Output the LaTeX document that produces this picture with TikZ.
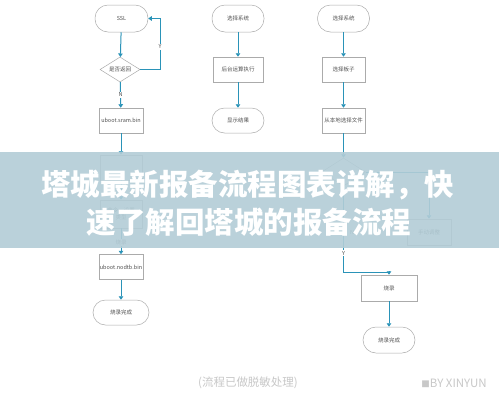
\documentclass[tikz,border=0pt]{standalone}
\usepackage{fontspec}
\newfontfamily\cjk{Noto Sans CJK SC}
\usetikzlibrary{arrows.meta,shapes.geometric,calc}
\definecolor{flow}{HTML}{2A93B8}
\definecolor{edgec}{HTML}{ABABAB}
\definecolor{txt}{HTML}{505050}
\definecolor{band}{HTML}{B3CDD7}
\definecolor{foot}{HTML}{C8C8C8}
\begin{document}
\begin{tikzpicture}[x=1pt,y=-1pt,
  base/.style={draw=edgec,line width=0.5pt,text=txt,font=\cjk\fontsize{5.5}{7}\selectfont,align=center,inner sep=1pt},
  boxn/.style={base,rectangle,minimum width=44pt,minimum height=25pt},
  term/.style={base,rectangle,rounded corners=13pt,minimum width=53pt,minimum height=27pt},
  dec/.style={base,diamond,aspect=2,inner sep=0pt,minimum width=40pt,minimum height=25pt},
  flowline/.style={draw=flow,line width=1pt,-{Triangle[length=3.5pt,width=4.5pt]}},
  lab/.style={fill=white,text=txt,font=\cjk\fontsize{5.5}{7}\selectfont,inner sep=1pt},
  titletext/.style={text=white,font=\cjk\bfseries\fontsize{29.5}{37}\selectfont,inner sep=0pt},
  foottext/.style={text=foot,font=\cjk\fontsize{11.5}{13}\selectfont,inner sep=0pt}]
\useasboundingbox (0,0) rectangle (499,400);
\fill[white] (0,0) rectangle (499,400);
% ---------- left column
\node[term] (ssl) at (121.5,18.5) {SSL};
\node[dec] (dia) at (120,69.5) {是否返回};
\node[boxn] (sram) at (121,120.5) {uboot.sram.bin};
\node[boxn,minimum width=42pt] (lb1) at (121,167.5) {};
\node[boxn,minimum width=42pt,minimum height=28pt] (lb2) at (121,214) {命令，设置\\类型};
\node[boxn] (nodtb) at (121,267) {uboot.nodtb.bin};
\node[term,minimum width=56pt,minimum height=25pt,rounded corners=12.5pt] (done1) at (121,312.5) {烧录完成};
\coordinate (yl1) at (160,69.5);
\coordinate (yl2) at (160,18.5);
\draw[flowline] (ssl) -- (dia);
\draw[flowline] (dia) -- node[lab] {N} (sram);
\draw[flowline] (dia.east) -- (yl1) -- node[lab,pos=0.45] {Y} (yl2) -- (ssl.east);
\draw[flowline] (sram) -- (lb1);
\draw[flowline] (lb1) -- (lb2);
\draw[flowline] (lb2) -- node[lab,pos=0.55] {烧录} (nodtb);
\draw[flowline] (nodtb) -- (done1);
% ---------- middle column
\node[term,minimum width=52pt] (m1) at (238,18.5) {选择系统};
\node[boxn,minimum width=50pt] (m2) at (238,69.5) {后台运算执行};
\node[term,minimum width=52pt,minimum height=25pt,rounded corners=12.5pt] (m3) at (238,120.5) {显示结果};
\draw[flowline] (m1) -- (m2);
\draw[flowline] (m2) -- (m3);
% ---------- right column
\node[term,minimum width=52pt] (r1) at (343.5,18.5) {选择系统};
\node[boxn,minimum width=43pt] (r2) at (343.5,69.5) {选择板子};
\node[boxn,minimum width=43pt] (r3) at (343.5,120.5) {从本地选择文件};
\node[dec,minimum width=44pt,minimum height=28pt] (r4) at (343.5,172) {};
\node[boxn,minimum width=44pt,minimum height=26pt] (hand) at (429,232) {手动调整};
\node[boxn,minimum width=56pt,minimum height=26pt] (burn) at (389,288) {烧录};
\node[term,minimum width=52pt,minimum height=26pt] (done2) at (389,340) {烧录完成};
\node[text=txt,font=\cjk\fontsize{5.5}{7}\selectfont,inner sep=0pt] (nlab) at (352,232) {N};
\coordinate (rc1) at (429,172);
\coordinate (rc2) at (343.5,272);
\coordinate (rc3) at (389,272);
\draw[flowline] (r1) -- (r2);
\draw[flowline] (r2) -- (r3);
\draw[flowline] (r3) -- (r4);
\draw[flowline] (r4.east) -- (rc1) -- (hand);
\draw[flowline] (r4.south) -- node[lab,pos=0.78] {Y} (rc2) -- (rc3) -- (burn);
\draw[flowline] (burn) -- (done2);
% ---------- banner
\fill[band,opacity=0.9] (0,152) rectangle (499,248);
\node[titletext] (t1) at (248,185) {塔城最新报备流程图表详解，快};
\node[titletext] (t2) at (249,222) {速了解回塔城的报备流程};
% ---------- footer
\node[foottext] (f1) at (248,383) {(流程已做脱敏处理)};
\node[foottext,anchor=east] (f2) at (487,383) {{\fontsize{8.5}{9}\selectfont ■}BY XINYUN};
\end{tikzpicture}
\end{document}
